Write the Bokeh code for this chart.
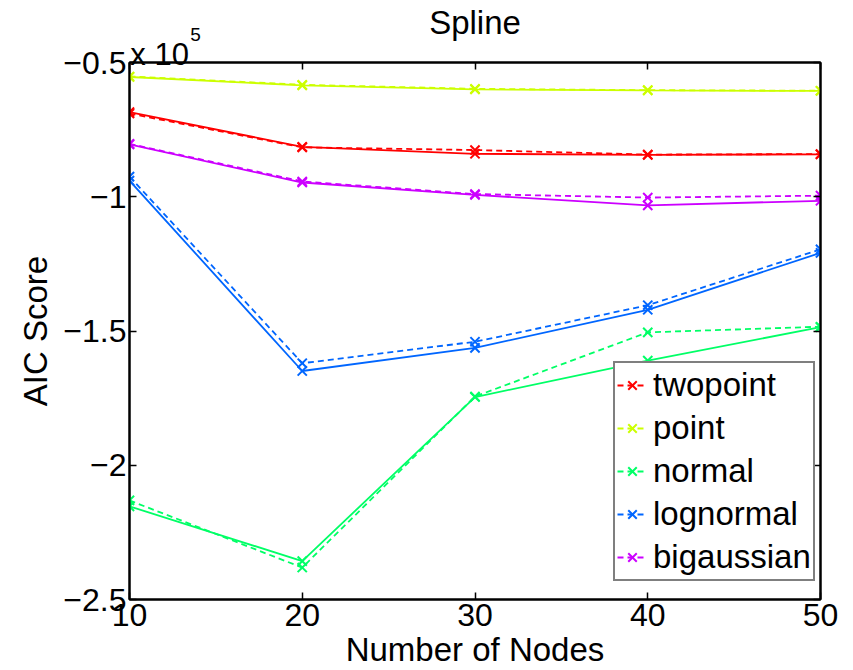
from bokeh.plotting import figure
from bokeh.models import Range1d, FixedTicker, LinearAxis, Legend, LegendItem
from bokeh.embed import file_html
from bokeh.resources import INLINE

# Data (AIC score in units of 1e5)
nodes = [10, 20, 30, 40, 50]
series_names = ["twopoint", "point", "normal", "lognormal", "bigaussian"]
series_colors = ["#FF0000", "#CCFF00", "#00FF66", "#0066FF", "#CC00FF"]

twopoint_solid = [-0.685, -0.814, -0.840, -0.844, -0.842]
twopoint_dashed = [-0.690, -0.816, -0.826, -0.843, -0.841]
point_solid = [-0.554, -0.585, -0.600, -0.604, -0.606]
point_dashed = [-0.552, -0.583, -0.598, -0.603, -0.605]
normal_solid = [-2.153, -2.357, -1.746, -1.610, -1.486]
normal_dashed = [-2.131, -2.381, -1.744, -1.505, -1.484]
lognormal_solid = [-0.940, -1.649, -1.563, -1.421, -1.209]
lognormal_dashed = [-0.925, -1.620, -1.540, -1.404, -1.196]
bigaussian_solid = [-0.805, -0.947, -0.993, -1.032, -1.015]
bigaussian_dashed = [-0.803, -0.943, -0.990, -1.003, -0.996]

solid_values = [twopoint_solid, point_solid, normal_solid, lognormal_solid, bigaussian_solid]
dashed_values = [twopoint_dashed, point_dashed, normal_dashed, lognormal_dashed, bigaussian_dashed]

x_ticks = [10, 20, 30, 40, 50]
y_ticks = [-2.5, -2.0, -1.5, -1.0, -0.5]
y_tick_labels = ["\u22122.5", "\u22122", "\u22121.5", "\u22121", "\u22120.5"]
multiplier_text = "x 10"
exponent_text = "5"

FONT = "Liberation Sans"
NBSP = "\u00a0"

p = figure(width=845, height=670, output_backend="svg", toolbar_location=None,
           x_range=Range1d(10, 50), y_range=Range1d(-2.5, -0.5),
           min_border_left=129, min_border_right=25, min_border_top=62, min_border_bottom=68)
p.title.visible = False
p.xgrid.visible = False
p.ygrid.visible = False
p.outline_line_color = "black"
p.outline_line_width = 2
p.background_fill_color = "white"
p.border_fill_color = "white"

def style_axis(ax):
    ax.axis_line_color = "black"
    ax.axis_line_width = 2
    ax.major_tick_in = 7
    ax.major_tick_out = 0
    ax.major_tick_line_color = "black"
    ax.major_tick_line_width = 1.5
    ax.minor_tick_line_color = None
    ax.major_label_text_font = FONT
    ax.major_label_text_font_size = "32px"
    ax.major_label_text_color = "black"
    ax.major_label_standoff = 5

# bottom
xa = p.xaxis[0]
xa.ticker = FixedTicker(ticks=x_ticks)
style_axis(xa)
xa.major_label_standoff = 4
xa.axis_label = "Number of Nodes"
xa.axis_label_text_font = FONT
xa.axis_label_text_font_size = "33px"
xa.axis_label_text_font_style = "normal"
xa.axis_label_text_color = "black"
xa.axis_label_standoff = 2

# left
ya = p.yaxis[0]
ya.ticker = FixedTicker(ticks=y_ticks)
ya.major_label_overrides = {t: s for t, s in zip(y_ticks, y_tick_labels)}
style_axis(ya)
ya.major_label_standoff = 3
ya.axis_label = "AIC Score"
ya.axis_label_text_font = FONT
ya.axis_label_text_font_size = "33px"
ya.axis_label_text_font_style = "normal"
ya.axis_label_text_color = "black"
ya.axis_label_standoff = 6

# top axis 1: inward ticks and the "x 10" multiplier (left-aligned to the frame)
top = LinearAxis(ticker=FixedTicker(ticks=x_ticks))
style_axis(top)
top.major_label_overrides = {t: (NBSP * 7 + multiplier_text if t == x_ticks[0] else "") for t in x_ticks}
top.major_label_text_font_size = "31px"
top.major_label_standoff = -9
p.add_layout(top, "above")

# top axis 2 (outer): exponent and the title, no line or ticks
top2 = LinearAxis(ticker=FixedTicker(ticks=[x_ticks[0]]))
top2.axis_line_color = None
top2.major_tick_line_color = None
top2.minor_tick_line_color = None
top2.major_tick_in = 0
top2.major_tick_out = 0
top2.major_label_overrides = {x_ticks[0]: NBSP * 25 + exponent_text}
top2.major_label_text_font = FONT
top2.major_label_text_font_size = "19px"
top2.major_label_text_color = "black"
top2.major_label_standoff = -11
top2.axis_label = "Spline"
top2.axis_label_text_font = FONT
top2.axis_label_text_font_size = "33px"
top2.axis_label_text_font_style = "normal"
top2.axis_label_text_color = "black"
top2.axis_label_standoff = -20
p.add_layout(top2, "above")

# right axis: inward ticks only
right = LinearAxis(ticker=FixedTicker(ticks=y_ticks))
style_axis(right)
right.major_label_overrides = {t: "" for t in y_ticks}
right.major_label_text_font_size = "0px"
right.major_label_standoff = 0
p.add_layout(right, "right")

items = []
for name, color, ys, yd in zip(series_names, series_colors, solid_values, dashed_values):
    p.line(nodes, ys, line_color=color, line_width=1.8)
    p.scatter(nodes, ys, marker="x", size=13, line_color=color, line_width=2)
    ld = p.line(nodes, yd, line_color=color, line_width=1.8, line_dash="6 4")
    sd = p.scatter(nodes, yd, marker="x", size=13, line_color=color, line_width=2)
    items.append(LegendItem(label=name, renderers=[ld, sd]))

legend = Legend(items=items, location=(484, 18))
legend.label_text_font = FONT
legend.label_text_font_size = "33px"
legend.label_text_color = "black"
legend.glyph_width = 30
legend.glyph_height = 40
legend.label_height = 40
legend.spacing = 3
legend.padding = 2
legend.margin = 0
legend.label_standoff = 6
legend.border_line_color = "black"
legend.border_line_width = 2
legend.background_fill_color = "white"
legend.background_fill_alpha = 1.0
p.add_layout(legend, "center")

open("out.html", "w").write(file_html(p, INLINE))
